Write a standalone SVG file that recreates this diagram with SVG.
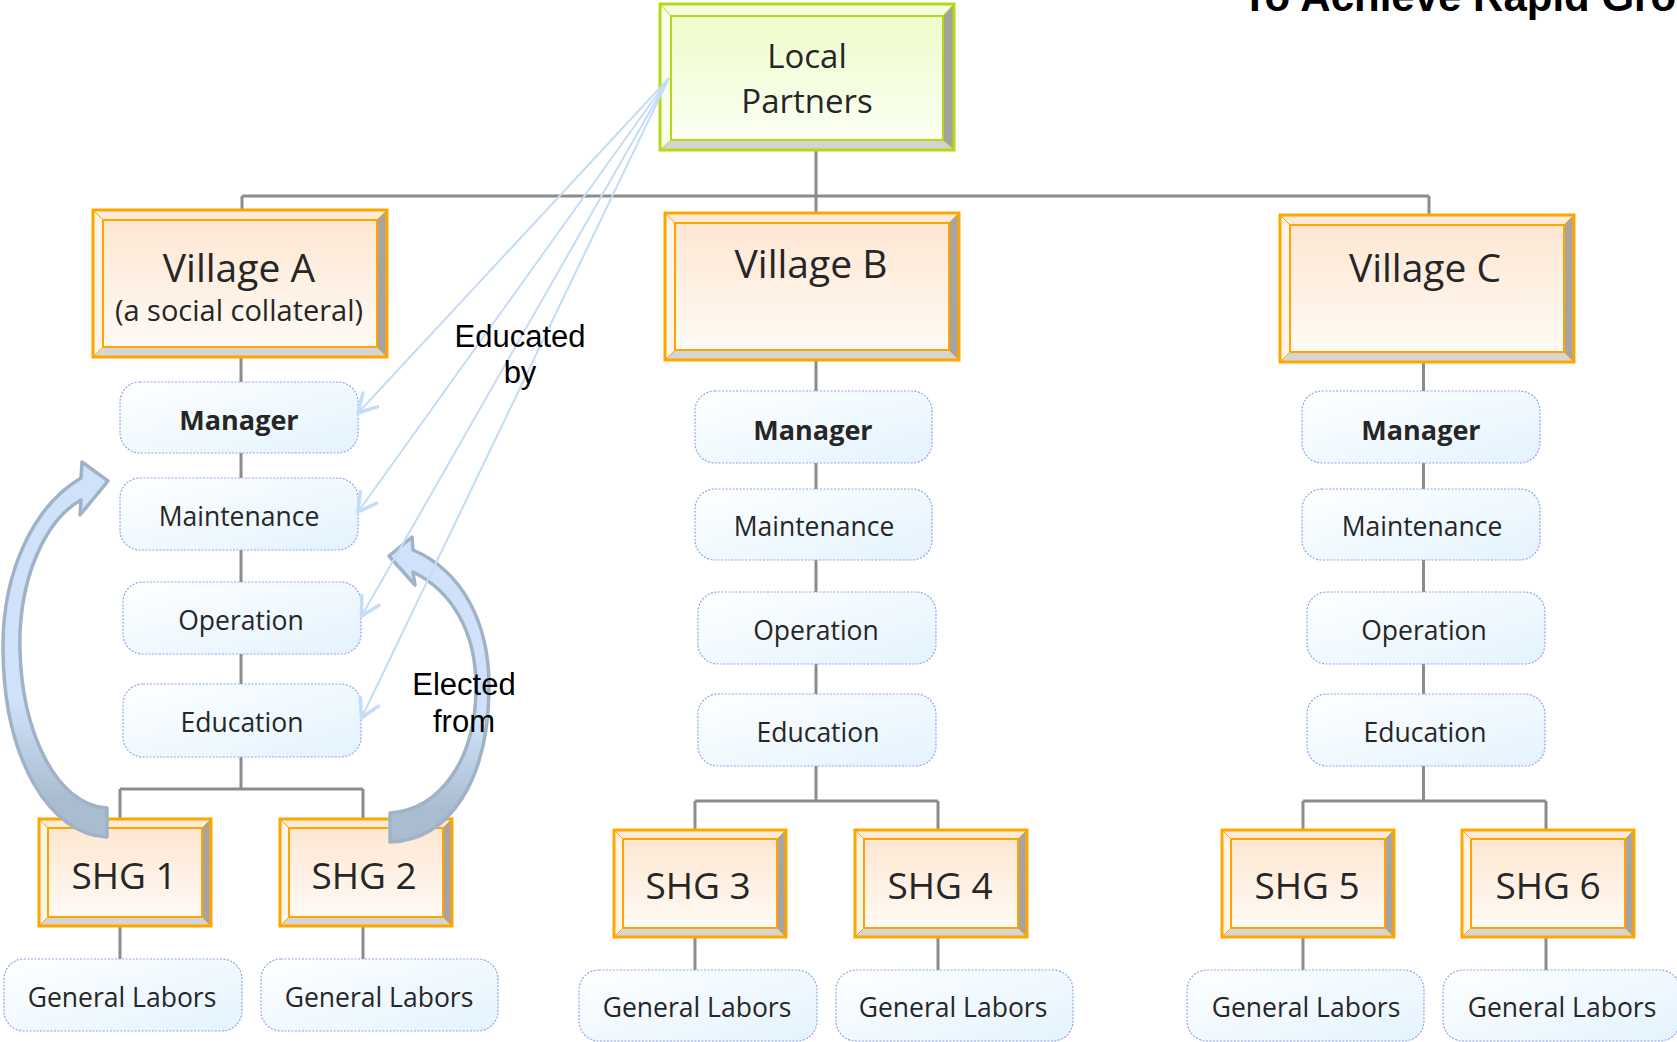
<svg xmlns="http://www.w3.org/2000/svg" xmlns:xlink="http://www.w3.org/1999/xlink" width="1677" height="1042" viewBox="0 0 1677 1042">
  <style>
    .lbl { font-family: "Open Sans", "Noto Sans", sans-serif; fill: #262626; text-anchor: middle; }
    .sm { font-size: 26.5px; }
    .mgr { font-size: 27px; font-weight: bold; }
    .vil { font-size: 39px; }
    .sub { font-size: 29px; }
    .shg { font-size: 37px; }
    .loc { font-size: 33px; }
    .note { font-family: "Liberation Sans", Arial, sans-serif; font-size: 31px; fill: #000; text-anchor: middle; }
    .title { font-family: "Liberation Sans", Arial, sans-serif; font-size: 42px; font-weight: bold; fill: #000; }
    .conn { stroke: #8c8c8c; stroke-width: 3; fill: none; }
    .edu { stroke: #c5dcf7; stroke-width: 2; fill: none; marker-end: url(#chev); }
    .pill { fill: url(#ice); stroke: #8ea6ee; stroke-width: 1.2; stroke-dasharray: 2 1.5; }
    .org-face { fill: url(#peach); stroke: #ffa500; stroke-width: 2; }
    .org-edge { fill: none; stroke: #ffa500; stroke-width: 3; }
    .org-diag { stroke: #ffa500; stroke-width: 1; }
    .arc { stroke: #a0b2c6; stroke-width: 3.5; stroke-linejoin: round; }
  </style>
  <defs>
    <linearGradient id="peach" x1="0" y1="0" x2="0" y2="1">
      <stop offset="0" stop-color="#fee7d2"/>
      <stop offset="1" stop-color="#fffaf5"/>
    </linearGradient>
    <linearGradient id="lime" x1="0" y1="0" x2="0" y2="1">
      <stop offset="0" stop-color="#eefccb"/>
      <stop offset="1" stop-color="#fbfff3"/>
    </linearGradient>
    <linearGradient id="ice" x1="0" y1="0" x2="1" y2="1">
      <stop offset="0" stop-color="#ffffff"/>
      <stop offset="1" stop-color="#e3f3fe"/>
    </linearGradient>
    <linearGradient id="bevelR" x1="0" y1="0" x2="0" y2="1">
      <stop offset="0" stop-color="#aaa49e"/>
      <stop offset="1" stop-color="#a4a4a4"/>
    </linearGradient>
    <linearGradient id="arcL" gradientUnits="userSpaceOnUse" x1="0" y1="700" x2="0" y2="800">
      <stop offset="0" stop-color="#cfe2f9"/>
      <stop offset="1" stop-color="#aabcd0"/>
    </linearGradient>
    <linearGradient id="arcR" gradientUnits="userSpaceOnUse" x1="0" y1="720" x2="0" y2="810">
      <stop offset="0" stop-color="#cfe2f9"/>
      <stop offset="1" stop-color="#aabcd0"/>
    </linearGradient>
    <marker id="chev" markerUnits="userSpaceOnUse" markerWidth="40" markerHeight="40" viewBox="-30 -20 40 40" refX="0" refY="0" orient="auto" overflow="visible">
      <path d="M-18,-10 L0,0 L-18,10" fill="none" stroke="#c5dcf7" stroke-width="3.5" stroke-linecap="round" stroke-linejoin="round"/>
    </marker>

    <!-- bevelled frame for village boxes, 294 x 147 -->
    <g id="frame-village">
      <polygon points="0,0 294,0 284,10 10,10" fill="#fdebd9"/>
      <polygon points="0,0 10,10 10,137 0,147" fill="#fff4ea"/>
      <polygon points="294,0 294,147 284,137 284,10" fill="url(#bevelR)"/>
      <polygon points="0,147 10,137 284,137 294,147" fill="#d5d5d5"/>
      <rect x="10" y="10" width="274" height="127" class="org-face"/>
      <path d="M0,0 L10,10 M294,0 L284,10 M0,147 L10,137 M294,147 L284,137" class="org-diag"/>
      <rect x="0" y="0" width="294" height="147" class="org-edge"/>
    </g>

    <!-- bevelled frame for SHG boxes, 172 x 107 -->
    <g id="frame-shg">
      <polygon points="0,0 172,0 163,9 9,9" fill="#fdebd9"/>
      <polygon points="0,0 9,9 9,98 0,107" fill="#fff4ea"/>
      <polygon points="172,0 172,107 163,98 163,9" fill="url(#bevelR)"/>
      <polygon points="0,107 9,98 163,98 172,107" fill="#d5d5d5"/>
      <rect x="9" y="9" width="154" height="89" class="org-face"/>
      <path d="M0,0 L9,9 M172,0 L163,9 M0,107 L9,98 M172,107 L163,98" class="org-diag"/>
      <rect x="0" y="0" width="172" height="107" class="org-edge"/>
    </g>
  </defs>

  <rect width="1677" height="1042" fill="#ffffff"/>

  <text class="title" x="1242" y="11">To Achieve Rapid Gro</text>

  <!-- tree connectors -->
  <g id="connectors">
    <path class="conn" d="M816,150 V213 M242,196 H1429 M242,196 V210 M1429,196 V215"/>
    <path class="conn" d="M241,357 V789 M120,789 H363 M120,789 V819 M363,789 V819 M120,926 V959 M363,926 V959"/>
    <path class="conn" d="M816,360 V801 M695,801 H938 M695,801 V830 M938,801 V830 M695,937 V970 M938,937 V970"/>
    <path class="conn" d="M1423.5,363 V801 M1303,801 H1546 M1303,801 V830 M1546,801 V830 M1303,937 V970 M1546,937 V970"/>
  </g>

  <g id="local-partners">
    <polygon points="660,4 954,4 943,16 671,16" fill="#f3fde0"/>
    <polygon points="660,4 671,16 671,140 660,150" fill="#f8feea"/>
    <polygon points="954,4 954,150 943,140 943,16" fill="#a1a39d"/>
    <polygon points="660,150 671,140 943,140 954,150" fill="#d3d3d3"/>
    <rect x="671" y="16" width="272" height="124" fill="url(#lime)" stroke="#b4d817" stroke-width="2"/>
    <path d="M660,4 L671,16 M954,4 L943,16 M660,150 L671,140 M954,150 L943,140" stroke="#b4d817" stroke-width="1"/>
    <rect x="660" y="4" width="294" height="146" fill="none" stroke="#b4d817" stroke-width="3"/>
    <text class="lbl loc" x="807" y="68">Local</text>
    <text class="lbl loc" x="807" y="113">Partners</text>
  </g>

  <!-- village A column -->
  <g id="village-a">
    <use xlink:href="#frame-village" x="93" y="210"/>
    <text class="lbl vil" x="239" y="281.5">Village A</text>
    <text class="lbl sub" x="239" y="320.5">(a social collateral)</text>
  </g>
  <g id="a-manager">
    <rect class="pill" x="120" y="382" width="238" height="71" rx="20"/>
    <text class="lbl mgr" x="239" y="430">Manager</text>
  </g>
  <g id="a-maintenance">
    <rect class="pill" x="120" y="478" width="238" height="72" rx="20"/>
    <text class="lbl sm" x="239" y="525.5">Maintenance</text>
  </g>
  <g id="a-operation">
    <rect class="pill" x="123" y="582" width="238" height="72" rx="20"/>
    <text class="lbl sm" x="241" y="629.5">Operation</text>
  </g>
  <g id="a-education">
    <rect class="pill" x="123" y="684" width="238" height="73" rx="20"/>
    <text class="lbl sm" x="242" y="731.5">Education</text>
  </g>
  <g id="shg-1">
    <use xlink:href="#frame-shg" x="39" y="819"/>
    <text class="lbl shg" x="124" y="889">SHG 1</text>
  </g>
  <g id="shg-2">
    <use xlink:href="#frame-shg" x="280" y="819"/>
    <text class="lbl shg" x="364" y="889">SHG 2</text>
  </g>
  <g id="labors-1">
    <rect class="pill" x="4" y="959" width="238" height="72" rx="20"/>
    <text class="lbl sm" x="122" y="1007">General Labors</text>
  </g>
  <g id="labors-2">
    <rect class="pill" x="261" y="959" width="237" height="72" rx="20"/>
    <text class="lbl sm" x="379" y="1007">General Labors</text>
  </g>

  <!-- village B column -->
  <g id="village-b">
    <use xlink:href="#frame-village" x="665" y="213"/>
    <text class="lbl vil" x="811" y="278">Village B</text>
  </g>
  <g id="b-manager">
    <rect class="pill" x="695" y="391" width="237" height="72" rx="20"/>
    <text class="lbl mgr" x="813" y="440">Manager</text>
  </g>
  <g id="b-maintenance">
    <rect class="pill" x="695" y="489" width="237" height="71" rx="20"/>
    <text class="lbl sm" x="814" y="536">Maintenance</text>
  </g>
  <g id="b-operation">
    <rect class="pill" x="698" y="592" width="238" height="72" rx="20"/>
    <text class="lbl sm" x="816" y="640">Operation</text>
  </g>
  <g id="b-education">
    <rect class="pill" x="698" y="694" width="238" height="72" rx="20"/>
    <text class="lbl sm" x="818" y="742">Education</text>
  </g>
  <g id="shg-3">
    <use xlink:href="#frame-shg" x="614" y="830"/>
    <text class="lbl shg" x="698" y="899">SHG 3</text>
  </g>
  <g id="shg-4">
    <use xlink:href="#frame-shg" x="855" y="830"/>
    <text class="lbl shg" x="940" y="899">SHG 4</text>
  </g>
  <g id="labors-3">
    <rect class="pill" x="579" y="970" width="238" height="71" rx="20"/>
    <text class="lbl sm" x="697" y="1017">General Labors</text>
  </g>
  <g id="labors-4">
    <rect class="pill" x="836" y="970" width="237" height="71" rx="20"/>
    <text class="lbl sm" x="953" y="1017">General Labors</text>
  </g>

  <!-- village C column -->
  <g id="village-c">
    <use xlink:href="#frame-village" x="1280" y="215"/>
    <text class="lbl vil" x="1425" y="281.5">Village C</text>
  </g>
  <g id="c-manager">
    <rect class="pill" x="1302" y="391" width="238" height="72" rx="20"/>
    <text class="lbl mgr" x="1421" y="440">Manager</text>
  </g>
  <g id="c-maintenance">
    <rect class="pill" x="1302" y="489" width="238" height="71" rx="20"/>
    <text class="lbl sm" x="1422" y="536">Maintenance</text>
  </g>
  <g id="c-operation">
    <rect class="pill" x="1307" y="592" width="238" height="72" rx="20"/>
    <text class="lbl sm" x="1424" y="640">Operation</text>
  </g>
  <g id="c-education">
    <rect class="pill" x="1307" y="694" width="238" height="72" rx="20"/>
    <text class="lbl sm" x="1425" y="742">Education</text>
  </g>
  <g id="shg-5">
    <use xlink:href="#frame-shg" x="1222" y="830"/>
    <text class="lbl shg" x="1307" y="899">SHG 5</text>
  </g>
  <g id="shg-6">
    <use xlink:href="#frame-shg" x="1462" y="830"/>
    <text class="lbl shg" x="1548" y="899">SHG 6</text>
  </g>
  <g id="labors-5">
    <rect class="pill" x="1187" y="970" width="237" height="71" rx="20"/>
    <text class="lbl sm" x="1306" y="1017">General Labors</text>
  </g>
  <g id="labors-6">
    <rect class="pill" x="1443" y="970" width="237" height="71" rx="20"/>
    <text class="lbl sm" x="1562" y="1017">General Labors</text>
  </g>

  <!-- "elected from" curved block arrows -->
  <g id="elected-arrows">
    <path class="arc" fill="url(#arcL)" d="M107,808 C55,805 22,730 20,650 C18,580 45,520 81,500 L80,515 L108,481 L82,462 L81,478 C35,505 2,570 3,650 C4,760 50,835 107,837 Z"/>
    <path class="arc" fill="url(#arcR)" d="M390,813 C440,810 475,760 476,690 C477,630 450,590 413,572 L415,585 L389,556 L412,537 L413,550 C460,570 490,620 489,690 C488,780 450,840 390,842 Z"/>
  </g>

  <!-- "educated by" links from local partners -->
  <g id="educated-links">
    <path class="edu" d="M669,78 L358,413"/>
    <path class="edu" d="M669,78 L358,512"/>
    <path class="edu" d="M669,78 L361.5,616"/>
    <path class="edu" d="M669,78 L361.5,718"/>
  </g>

  <g id="notes">
    <text class="note" x="520" y="346.5">Educated</text>
    <text class="note" x="520" y="383">by</text>
    <text class="note" x="464" y="695">Elected</text>
    <text class="note" x="464" y="731.5">from</text>
  </g>
</svg>
